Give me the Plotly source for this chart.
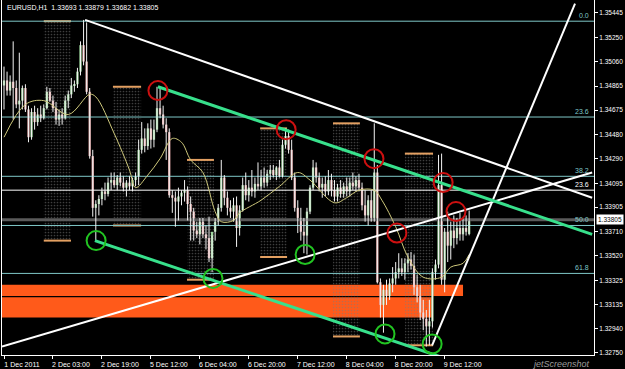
import plotly.graph_objects as go

# ---------------- data ----------------
BAR_INDEX = list(range(153))

OPEN = [1.3487, 1.3491, 1.3483, 1.3490, 1.3485, 1.3472, 1.3475, 1.3485, 1.3468, 1.3446,
        1.3466, 1.3458, 1.3464, 1.3461, 1.3469, 1.3482, 1.3475, 1.3469, 1.3460, 1.3464,
        1.3461, 1.3475, 1.3480, 1.3487, 1.3488, 1.3498, 1.3519, 1.3506, 1.3482, 1.3431,
        1.3390, 1.3393, 1.3397, 1.3403, 1.3401, 1.3410, 1.3412, 1.3408, 1.3414, 1.3410,
        1.3406, 1.3410, 1.3407, 1.3412, 1.3415, 1.3436, 1.3445, 1.3439, 1.3453, 1.3444,
        1.3452, 1.3469, 1.3464, 1.3456, 1.3450, 1.3400, 1.3398, 1.3395, 1.3399, 1.3402,
        1.3404, 1.3393, 1.3387, 1.3372, 1.3369, 1.3379, 1.3369, 1.3366, 1.3350, 1.3371,
        1.3379, 1.3390, 1.3414, 1.3398, 1.3390, 1.3387, 1.3392, 1.3374, 1.3388, 1.3408,
        1.3400, 1.3406, 1.3403, 1.3409, 1.3407, 1.3414, 1.3410, 1.3417, 1.3420, 1.3416,
        1.3422, 1.3415, 1.3440, 1.3447, 1.3436, 1.3414, 1.3390, 1.3382, 1.3371, 1.3368,
        1.3387, 1.3406, 1.3422, 1.3414, 1.3406, 1.3409, 1.3403, 1.3412, 1.3404, 1.3399,
        1.3406, 1.3401, 1.3407, 1.3403, 1.3410, 1.3407, 1.3412, 1.3406, 1.3392, 1.3384,
        1.3396, 1.3382, 1.3418, 1.3331, 1.3313, 1.3325, 1.3320, 1.3330, 1.3334, 1.3339,
        1.3342, 1.3339, 1.3346, 1.3349, 1.3344, 1.3327, 1.3320, 1.3307, 1.3302, 1.3296,
        1.3300, 1.3339, 1.3345, 1.3408, 1.3333, 1.3371, 1.3360, 1.3372, 1.3366, 1.3374,
        1.3369, 1.3374, 1.33693]

HIGH = [1.3502, 1.3498, 1.3495, 1.3522, 1.3491, 1.3513, 1.3487, 1.3488, 1.3471, 1.3469,
        1.3471, 1.3469, 1.3471, 1.3472, 1.3486, 1.3485, 1.3479, 1.3474, 1.3468, 1.3469,
        1.3479, 1.3483, 1.3493, 1.3491, 1.3501, 1.3522, 1.3539, 1.3537, 1.3485, 1.3436,
        1.3396, 1.3400, 1.3406, 1.3410, 1.3414, 1.3418, 1.3418, 1.3416, 1.3418, 1.3415,
        1.3412, 1.3415, 1.3414, 1.3418, 1.3444, 1.3458, 1.3453, 1.3457, 1.3460, 1.3460,
        1.3486, 1.3486, 1.3471, 1.3461, 1.3453, 1.3404, 1.3403, 1.3406, 1.3404, 1.3412,
        1.3407, 1.3399, 1.3390, 1.3379, 1.3382, 1.3382, 1.3376, 1.3383, 1.3368, 1.3382,
        1.3393, 1.3428, 1.3416, 1.3403, 1.3396, 1.3398, 1.3399, 1.3392, 1.3414, 1.3418,
        1.3412, 1.3420, 1.3414, 1.3426, 1.3420, 1.3422, 1.3420, 1.3424, 1.3424, 1.3423,
        1.3428, 1.3444, 1.3453, 1.3452, 1.3444, 1.3418, 1.3396, 1.3390, 1.3382, 1.3390,
        1.3408, 1.3428, 1.3426, 1.3418, 1.3414, 1.3415, 1.3420, 1.3417, 1.3412, 1.3409,
        1.3412, 1.3410, 1.3414, 1.3414, 1.3418, 1.3415, 1.3417, 1.3410, 1.3404, 1.3400,
        1.3404, 1.3457, 1.3424, 1.3334, 1.3329, 1.3333, 1.3334, 1.3343, 1.3347, 1.3354,
        1.3350, 1.3350, 1.3354, 1.3355, 1.3353, 1.3337, 1.3329, 1.3317, 1.3309, 1.3317,
        1.3342, 1.3349, 1.3432, 1.3433, 1.3374, 1.3387, 1.3379, 1.3384, 1.3382, 1.3386,
        1.3382, 1.3384, 1.33879]

LOW = [1.3468, 1.3479, 1.3479, 1.3460, 1.3469, 1.3453, 1.3468, 1.3466, 1.3442, 1.3444,
       1.3452, 1.3455, 1.3458, 1.3460, 1.3468, 1.3474, 1.3466, 1.3456, 1.3455, 1.3456,
       1.3460, 1.3469, 1.3477, 1.3482, 1.3485, 1.3495, 1.3503, 1.3480, 1.3429, 1.3383,
       1.3364, 1.3384, 1.3392, 1.3396, 1.3399, 1.3404, 1.3406, 1.3404, 1.3407, 1.3403,
       1.3399, 1.3404, 1.3403, 1.3407, 1.3408, 1.3433, 1.3434, 1.3436, 1.3437, 1.3438,
       1.3450, 1.3461, 1.3453, 1.3428, 1.3398, 1.3386, 1.3375, 1.3380, 1.3392, 1.3395,
       1.3380, 1.3364, 1.3364, 1.3366, 1.3361, 1.3366, 1.3357, 1.3347, 1.3339, 1.3364,
       1.3376, 1.3387, 1.3392, 1.3384, 1.3382, 1.3379, 1.3359, 1.3368, 1.3387, 1.3396,
       1.3395, 1.3399, 1.3398, 1.3404, 1.3404, 1.3406, 1.3407, 1.3412, 1.3414, 1.3412,
       1.3414, 1.3414, 1.3437, 1.3433, 1.3412, 1.3387, 1.3370, 1.3364, 1.3354, 1.3353,
       1.3385, 1.3404, 1.3410, 1.3403, 1.3398, 1.3399, 1.3400, 1.3399, 1.3395, 1.3395,
       1.3398, 1.3398, 1.3399, 1.3399, 1.3404, 1.3403, 1.3403, 1.3388, 1.3379, 1.3376,
       1.3379, 1.3379, 1.3330, 1.3303, 1.3291, 1.3313, 1.3317, 1.3323, 1.3329, 1.3334,
       1.3336, 1.3333, 1.3339, 1.3341, 1.3321, 1.3315, 1.3301, 1.3293, 1.3280, 1.3281,
       1.3295, 1.3333, 1.3342, 1.3329, 1.3323, 1.3347, 1.3349, 1.3358, 1.3361, 1.3364,
       1.3364, 1.3368, 1.33682]

CLOSE = [1.3491, 1.3483, 1.3490, 1.3485, 1.3472, 1.3475, 1.3485, 1.3468, 1.3446, 1.3466,
         1.3458, 1.3464, 1.3461, 1.3469, 1.3482, 1.3475, 1.3469, 1.3460, 1.3464, 1.3461,
         1.3475, 1.3480, 1.3487, 1.3488, 1.3498, 1.3519, 1.3506, 1.3482, 1.3431, 1.3390,
         1.3393, 1.3397, 1.3403, 1.3401, 1.3410, 1.3412, 1.3408, 1.3414, 1.3410, 1.3406,
         1.3410, 1.3407, 1.3412, 1.3415, 1.3436, 1.3445, 1.3439, 1.3453, 1.3444, 1.3452,
         1.3469, 1.3464, 1.3456, 1.3450, 1.3400, 1.3398, 1.3395, 1.3399, 1.3402, 1.3404,
         1.3393, 1.3387, 1.3372, 1.3369, 1.3379, 1.3369, 1.3366, 1.3350, 1.3371, 1.3379,
         1.3390, 1.3414, 1.3398, 1.3390, 1.3387, 1.3392, 1.3374, 1.3388, 1.3408, 1.3400,
         1.3406, 1.3403, 1.3409, 1.3407, 1.3414, 1.3410, 1.3417, 1.3420, 1.3416, 1.3422,
         1.3415, 1.3440, 1.3447, 1.3436, 1.3414, 1.3390, 1.3382, 1.3371, 1.3368, 1.3387,
         1.3406, 1.3422, 1.3414, 1.3406, 1.3409, 1.3403, 1.3412, 1.3404, 1.3399, 1.3406,
         1.3401, 1.3407, 1.3403, 1.3410, 1.3407, 1.3412, 1.3406, 1.3392, 1.3384, 1.3396,
         1.3382, 1.3418, 1.3331, 1.3313, 1.3325, 1.3320, 1.3330, 1.3334, 1.3339, 1.3342,
         1.3339, 1.3346, 1.3349, 1.3344, 1.3327, 1.3320, 1.3307, 1.3302, 1.3296, 1.3300,
         1.3339, 1.3345, 1.3408, 1.3333, 1.3371, 1.3360, 1.3372, 1.3366, 1.3374, 1.3369,
         1.3374, 1.3371, 1.33805]

X_TICKS = [0, 16, 32, 48, 64, 80, 96, 112, 128, 144]
X_TICK_LABELS = ["1 Dec 2011", "2 Dec 03:00", "2 Dec 19:00", "5 Dec 12:00", "6 Dec 04:00",
                 "6 Dec 20:00", "7 Dec 12:00", "8 Dec 04:00", "8 Dec 20:00", "9 Dec 12:00"]
PRICE_TICKS = [1.35445, 1.35250, 1.35060, 1.34865, 1.34675, 1.34480, 1.34290, 1.34095,
               1.33905, 1.33710, 1.33520, 1.33325, 1.33135, 1.32940, 1.32750]

MA_X = [0, 7, 13, 21, 28, 30, 36, 41, 43, 47, 51, 55, 58, 61, 65, 69, 71, 75, 77, 84,
        90, 96, 100, 108, 112, 116, 121, 123.5, 128, 132, 137, 143, 146, 150, 152]
MA_Y = [1.3446, 1.3472, 1.3475, 1.3464, 1.3480, 1.3478, 1.3449, 1.3420, 1.3406, 1.3416,
        1.3429, 1.3445, 1.3442, 1.3428, 1.3418, 1.3387, 1.3379, 1.3380, 1.3386, 1.3396,
        1.3407, 1.3418, 1.3412, 1.3394, 1.3398, 1.3404, 1.3404, 1.3396, 1.3375, 1.3351,
        1.3335, 1.3335, 1.3343, 1.3346, 1.3353]

FIB_LEVELS = [1.3538, 1.3462, 1.3415, 1.3376, 1.3338]
FIB_LABELS = ["0.0", "23.6", "38.2", "50.0", "61.8"]
FIB2_LEVELS = [1.3404]
FIB2_LABELS = ["23.6"]
BID = 1.33805
HEADER = "EURUSD,H1  1.33693 1.33879 1.33682 1.33805"
WATERMARK = "jetScreenshot"

WHITE_X0 = [26.5, -0.65, 139.9]
WHITE_Y0 = [1.3539, 1.3280, 1.3281]
WHITE_X1 = [192.2, 192.2, 186.6]
WHITE_Y1 = [1.3398, 1.3418, 1.3552]

GREEN_X0 = [50.3, 29.7]
GREEN_Y0 = [1.3486, 1.3364]
GREEN_X1 = [192.2, 142.5]
GREEN_Y1 = [1.3369, 1.3272]

RED_CIRCLE_X = [50.3, 92.2, 120.9, 128.4, 143.5, 147.7]
RED_CIRCLE_Y = [1.3483, 1.3452, 1.3429, 1.3370, 1.3410, 1.3387]
GREEN_CIRCLE_X = [30.1, 68.3, 98.4, 124.5, 139.9]
GREEN_CIRCLE_Y = [1.3364, 1.3334, 1.3353, 1.3290, 1.3282]

SESSION_START = [13.0, 35.6, 59.8, 83.7, 107.5, 131.0]
SESSION_END = [21.9, 44.8, 68.6, 92.5, 116.3, 140.2]
SESSION_HIGH = [1.3538, 1.3486, 1.3428, 1.3453, 1.3457, 1.3433]
SESSION_LOW = [1.3364, 1.3376, 1.3333, 1.3351, 1.3288, 1.3281]

ZONE_X0 = [-0.65, -0.65]
ZONE_X1 = [150.0, 139.9]
ZONE_Y0 = [1.3320, 1.3303]
ZONE_Y1 = [1.3329, 1.3319]

# ---------------- styles ----------------
X_RANGE = [-0.654, 192.8]
Y_RANGE = [1.32733, 1.35548]
FIB_COLOR = "#7fc7c7"
FONT = "Liberation Sans"
BULL = "#9fd69f"
BEAR = "#e3a9a9"

fig = go.Figure()

# session dotted zones
fig.add_trace(go.Bar(
    x=[(s + e) / 2 for s, e in zip(SESSION_START, SESSION_END)],
    y=[h - l for h, l in zip(SESSION_HIGH, SESSION_LOW)],
    base=SESSION_LOW,
    width=[e - s for s, e in zip(SESSION_START, SESSION_END)],
    marker=dict(color="rgba(0,0,0,0)", line=dict(width=0),
                pattern=dict(shape=".", fgcolor="#7c7c7c", bgcolor="rgba(0,0,0,0)",
                             size=3, solidity=0.25)),
    showlegend=False, hoverinfo="skip"))

# session high/low ticks
sx, sy = [], []
for s, e, h, l in zip(SESSION_START, SESSION_END, SESSION_HIGH, SESSION_LOW):
    sx += [s, e, None, s, e, None]
    sy += [h, h, None, l, l, None]
fig.add_trace(go.Scatter(x=sx, y=sy, mode="lines", line=dict(color="#e3a062", width=2),
                         showlegend=False, hoverinfo="skip"))

# horizontal fib lines
fx, fy = [], []
for lv in FIB_LEVELS:
    fx += [X_RANGE[0], X_RANGE[1], None]
    fy += [lv, lv, None]
fig.add_trace(go.Scatter(x=fx, y=fy, mode="lines", line=dict(color=FIB_COLOR, width=1),
                         showlegend=False, hoverinfo="skip"))
wx, wy = [], []
for lv in FIB2_LEVELS:
    wx += [X_RANGE[0], X_RANGE[1], None]
    wy += [lv, lv, None]
fig.add_trace(go.Scatter(x=wx, y=wy, mode="lines", line=dict(color="#ffffff", width=1),
                         showlegend=False, hoverinfo="skip"))
# bid line
fig.add_trace(go.Scatter(x=X_RANGE, y=[BID, BID], mode="lines",
                         line=dict(color="#5a5a5a", width=3),
                         showlegend=False, hoverinfo="skip"))

# candle wicks (white)
kx, ky = [], []
for i, h, l in zip(BAR_INDEX, HIGH, LOW):
    kx += [i, i, None]
    ky += [h, l, None]
fig.add_trace(go.Scatter(x=kx, y=ky, mode="lines", line=dict(color="#f4f4f4", width=1),
                         showlegend=False, hoverinfo="skip"))

# candle bodies
for is_up, col in ((True, BULL), (False, BEAR)):
    bx, bb, bh = [], [], []
    for i, o, c in zip(BAR_INDEX, OPEN, CLOSE):
        if (c >= o) == is_up:
            bx.append(i)
            bb.append(min(o, c))
            bh.append(max(abs(c - o), 0.00006))
    fig.add_trace(go.Bar(x=bx, y=bh, base=bb, width=0.75,
                         marker=dict(color=col, line=dict(width=0)),
                         showlegend=False, hoverinfo="skip"))

# moving average
fig.add_trace(go.Scatter(x=MA_X, y=MA_Y, mode="lines",
                         line=dict(color="#cfc97c", width=1, shape="spline"),
                         showlegend=False, hoverinfo="skip"))

# trend lines
for x0, y0, x1, y1 in zip(WHITE_X0, WHITE_Y0, WHITE_X1, WHITE_Y1):
    fig.add_trace(go.Scatter(x=[x0, x1], y=[y0, y1], mode="lines",
                             line=dict(color="#ffffff", width=2),
                             showlegend=False, hoverinfo="skip"))
for x0, y0, x1, y1 in zip(GREEN_X0, GREEN_Y0, GREEN_X1, GREEN_Y1):
    fig.add_trace(go.Scatter(x=[x0, x1], y=[y0, y1], mode="lines",
                             line=dict(color="#38e08c", width=3),
                             showlegend=False, hoverinfo="skip"))

# circles
fig.add_trace(go.Scatter(x=RED_CIRCLE_X, y=RED_CIRCLE_Y, mode="markers",
                         marker=dict(symbol="circle-open", size=19,
                                     line=dict(color="#cc1010", width=2), color="#cc1010"),
                         showlegend=False, hoverinfo="skip", cliponaxis=False))
fig.add_trace(go.Scatter(x=GREEN_CIRCLE_X, y=GREEN_CIRCLE_Y, mode="markers",
                         marker=dict(symbol="circle-open", size=19,
                                     line=dict(color="#22c422", width=2), color="#22c422"),
                         showlegend=False, hoverinfo="skip", cliponaxis=False))

# orange zones
shapes = []
for x0, x1, y0, y1 in zip(ZONE_X0, ZONE_X1, ZONE_Y0, ZONE_Y1):
    shapes.append(dict(type="rect", xref="x", yref="y", x0=x0, x1=x1, y0=y0, y1=y1,
                       fillcolor="#ff5a1a", line=dict(width=0), layer="below"))

annotations = []
for lv, lab in zip(FIB_LEVELS, FIB_LABELS):
    annotations.append(dict(x=191.8, y=lv, xref="x", yref="y", text=lab, showarrow=False,
                            xanchor="right", yanchor="bottom",
                            font=dict(family=FONT, size=7, color=FIB_COLOR)))
for lv, lab in zip(FIB2_LEVELS, FIB2_LABELS):
    annotations.append(dict(x=191.8, y=lv, xref="x", yref="y", text=lab, showarrow=False,
                            xanchor="right", yanchor="bottom",
                            font=dict(family=FONT, size=7, color="#ffffff")))
annotations.append(dict(x=0.005, y=1, xref="paper", yref="paper", text=HEADER,
                        showarrow=False, xanchor="left", yanchor="top", yshift=-2,
                        font=dict(family=FONT, size=7, color="#ffffff")))
annotations.append(dict(x=1, y=BID, xref="paper", yref="y", text=f"{BID:.5f}",
                        showarrow=False, xanchor="left", yanchor="middle", xshift=2,
                        bgcolor="#ffffff", borderpad=1,
                        font=dict(family=FONT, size=6.5, color="#000000")))
annotations.append(dict(x=0.997, y=0, xref="paper", yref="paper",
                        text=f"<i>{WATERMARK}</i>", showarrow=False,
                        xanchor="right", yanchor="top", yshift=-2,
                        font=dict(family=FONT, size=9, color="#9a9a9a")))

fig.update_layout(
    width=625, height=369,
    margin=dict(l=2, r=31, t=0, b=14),
    paper_bgcolor="#000000", plot_bgcolor="#000000",
    showlegend=False, hovermode=False, barmode="overlay",
    shapes=shapes, annotations=annotations,
    xaxis=dict(range=X_RANGE, showgrid=False,
               zeroline=False, showline=True, linecolor="#ffffff", linewidth=1,
               tickmode="array", tickvals=X_TICKS, ticktext=X_TICK_LABELS,
               ticks="outside", ticklen=3, tickcolor="#ffffff", ticklabelshift=18,
               tickfont=dict(family=FONT, size=7, color="#ffffff")),
    yaxis=dict(range=Y_RANGE, side="right", showgrid=False, zeroline=False,
               showline=True, linecolor="#ffffff", linewidth=1, mirror=True,
               tickmode="array", tickvals=PRICE_TICKS,
               ticktext=[f"{v:.5f}" for v in PRICE_TICKS],
               ticks="outside", ticklen=3, tickcolor="#ffffff",
               tickfont=dict(family=FONT, size=6.5, color="#ffffff")),
)

fig.write_html("out.html")
